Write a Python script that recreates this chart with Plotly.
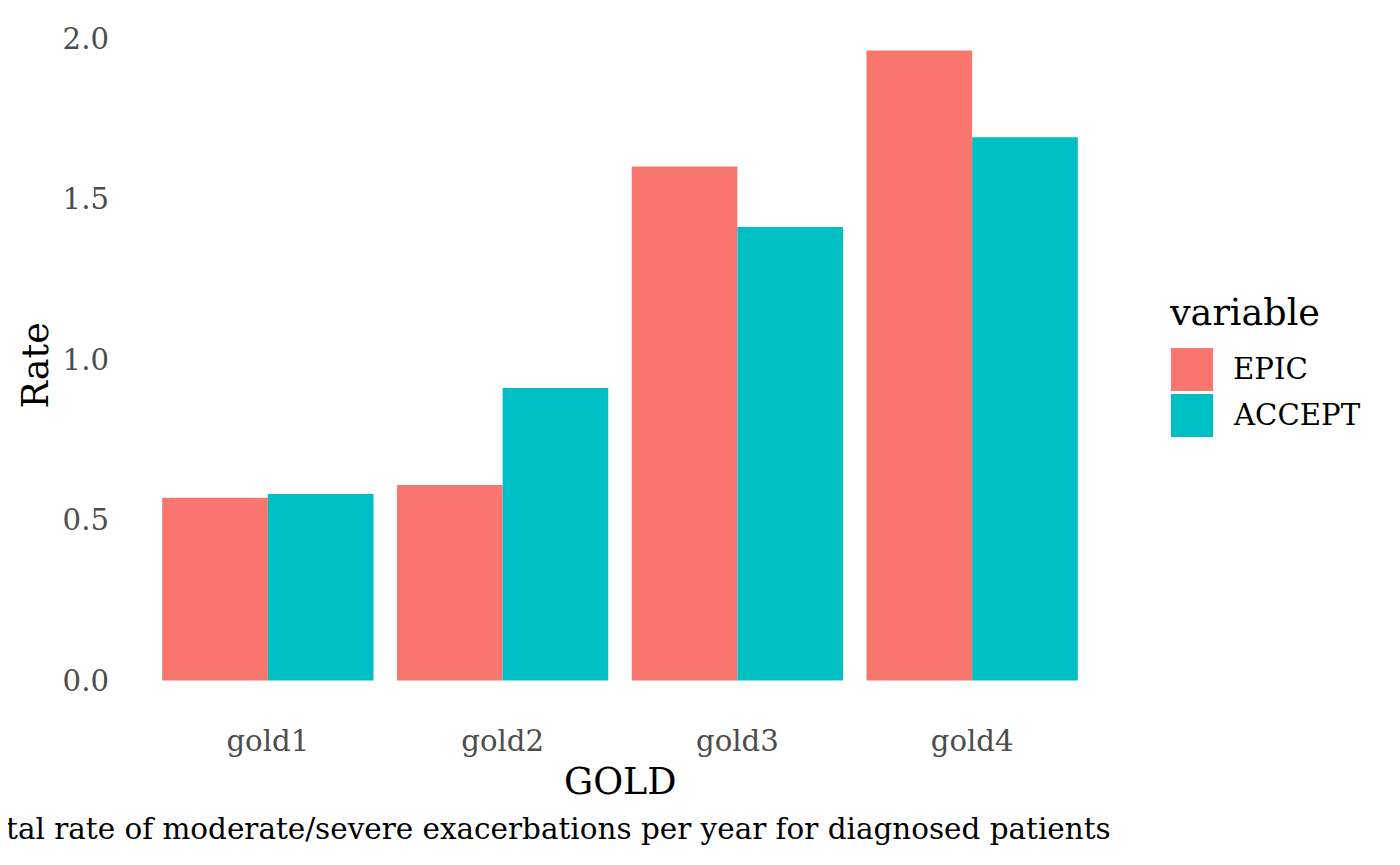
import plotly.graph_objects as go

categories = ["gold1", "gold2", "gold3", "gold4"]
epic = [0.569, 0.609, 1.601, 1.962]
accept = [0.581, 0.911, 1.412, 1.692]
series_names = ["EPIC", "ACCEPT"]
colors = ["#F8766D", "#00BFC4"]
y_ticks = [0.0, 0.5, 1.0, 1.5, 2.0]
y_tick_labels = ["0.0", "0.5", "1.0", "1.5", "2.0"]

FONT = "DejaVu Serif"
W, H = 1400, 865
OFF = 8  # page body offset
L, R, T, B = 127 - OFF, 1113 - OFF, 18.5 - OFF, 712.5 - OFF
BIG, SMALL = 36.5, 29.2

def px_x(p):
    return (p - OFF - L) / (R - L)

def px_y(p):
    return (B - (p - OFF)) / (B - T)

fig = go.Figure()
for name, vals, col in zip(series_names, [epic, accept], colors):
    fig.add_trace(go.Bar(x=categories, y=vals, name=name, marker=dict(color=col, line=dict(width=0)),
                         showlegend=False))

ymax = max(epic + accept)
pad = 0.05 * ymax
fig.update_layout(
    width=W, height=H,
    margin=dict(l=L, r=W - R, t=T, b=H - B),
    paper_bgcolor="white", plot_bgcolor="white",
    barmode="group", bargap=0.1, bargroupgap=0,
    font=dict(family=FONT),
    xaxis=dict(range=[-0.6, 3.6], showgrid=False, zeroline=False, showline=False, ticks="",
               tickfont=dict(family=FONT, size=SMALL, color="#4D4D4D"), ticklabelstandoff=9),
    yaxis=dict(range=[-pad, ymax + pad], showgrid=False, zeroline=False, showline=False, ticks="",
               tickvals=y_ticks, ticktext=y_tick_labels,
               tickfont=dict(family=FONT, size=SMALL, color="#4D4D4D"), ticklabelstandoff=17),
)

# axis titles and caption
fig.add_annotation(text="GOLD", xref="paper", yref="paper", x=0.5, y=px_y(782), xanchor="center",
                   yanchor="middle", showarrow=False, font=dict(family=FONT, size=BIG, color="black"))
fig.add_annotation(text="Rate", xref="paper", yref="paper", x=px_x(35), y=0.5, xanchor="center",
                   yanchor="middle", textangle=-90, showarrow=False,
                   font=dict(family=FONT, size=BIG, color="black"))
fig.add_annotation(text="Total rate of moderate/severe exacerbations per year for diagnosed patients",
                   xref="paper", yref="paper", x=px_x(1113), y=px_y(830), xanchor="right", yanchor="middle",
                   showarrow=False, font=dict(family=FONT, size=29.45, color="black"))

# legend drawn manually
fig.add_annotation(text="variable", xref="paper", yref="paper", x=px_x(1167), y=px_y(312),
                   xanchor="left", yanchor="middle", showarrow=False,
                   font=dict(family=FONT, size=BIG, color="black"))
key_tops = [348, 394]
for name, col, top in zip(series_names, colors, key_tops):
    fig.add_shape(type="rect", xref="paper", yref="paper", x0=px_x(1171), x1=px_x(1213),
                  y0=px_y(top + 43), y1=px_y(top), fillcolor=col, line=dict(width=0))
    fig.add_annotation(text=name, xref="paper", yref="paper", x=px_x(1231), y=px_y(top + 21.5),
                       xanchor="left", yanchor="middle", showarrow=False,
                       font=dict(family=FONT, size=SMALL, color="black"))

fig.write_html("out.html")
